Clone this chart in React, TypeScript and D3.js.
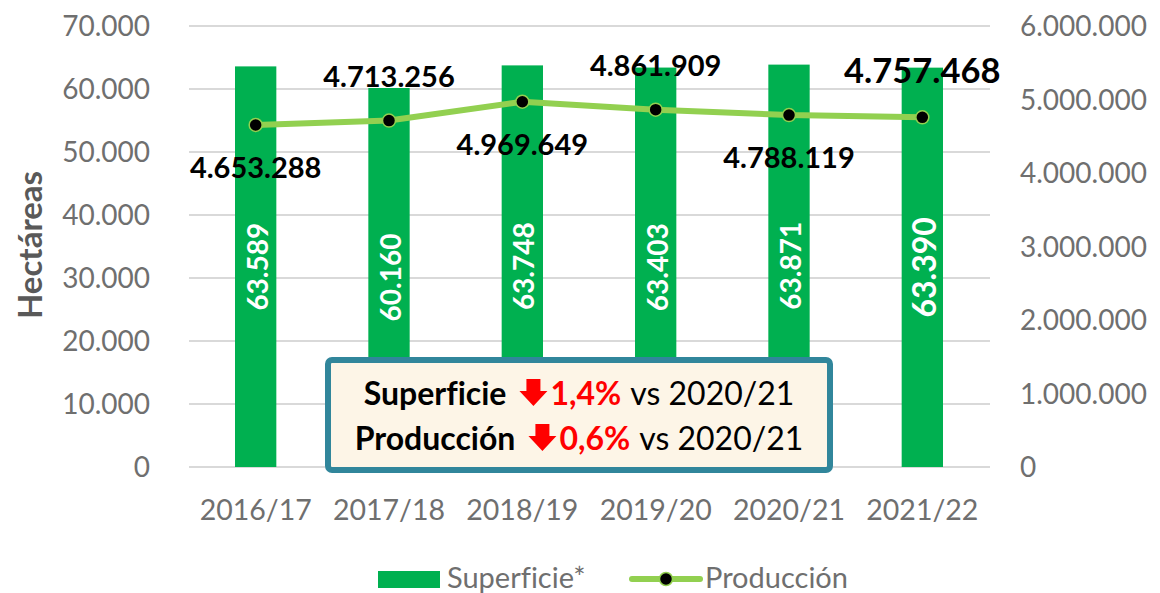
import React, { useEffect, useRef } from "react";
import * as d3 from "d3";

const categories = ["2016/17", "2017/18", "2018/19", "2019/20", "2020/21", "2021/22"];
const superficie = [63589, 60160, 63748, 63403, 63871, 63390];
const produccion = [4653288, 4713256, 4969649, 4861909, 4788119, 4757468];
const leftTicks = [0, 10000, 20000, 30000, 40000, 50000, 60000, 70000];
const rightTicks = [0, 1000000, 2000000, 3000000, 4000000, 5000000, 6000000];
const labelAbove = [false, true, false, true, false, true];
const summaryLines = [
  { label: "Superficie", change: "1,4%", ref: "vs 2020/21" },
  { label: "Producción", change: "0,6%", ref: "vs 2020/21" },
];
const legendNames = ["Superficie*", "Producción"];
const axisTitle = "Hectáreas";

const W = 1160;
const H = 593;
const FONT = "Lato, 'Open Sans', sans-serif";

export default function App() {
  const ref = useRef<SVGSVGElement | null>(null);

  useEffect(() => {
    const svg = d3.select(ref.current);
    svg.selectAll("*").remove();
    svg.style("font-variant-ligatures", "none").style("font-feature-settings", "'liga' 0");

    const loc = d3.formatLocale({ decimal: ",", thousands: ".", grouping: [3], currency: ["", ""] });
    const fmt = loc.format(",d");

    const x = d3.scaleBand<string>().domain(categories).range([189, 989]).paddingInner(0.69).paddingOuter(0.345);
    const yL = d3.scaleLinear().domain([0, 70000]).range([467, 26]);
    const yR = d3.scaleLinear().domain([0, 6000000]).range([467, 26]);
    const cx = (c: string) => (x(c) as number) + x.bandwidth() / 2;

    // gridlines
    svg.append("g").selectAll("line").data(leftTicks).join("line")
      .attr("x1", 189).attr("x2", 990)
      .attr("y1", (d) => yL(d)).attr("y2", (d) => yL(d))
      .attr("stroke", "#d9d9d9").attr("stroke-width", 2);

    // left ticks
    svg.append("g").selectAll("text").data(leftTicks).join("text")
      .attr("x", 150).attr("y", (d) => yL(d))
      .attr("dy", "0.36em")
      .attr("text-anchor", "end")
      .attr("font-family", FONT).attr("font-size", 28).attr("fill", "#6f6f6f")
      .text((d) => fmt(d));

    // right ticks
    svg.append("g").selectAll("text").data(rightTicks).join("text")
      .attr("x", 1020).attr("y", (d) => yR(d))
      .attr("dy", "0.36em")
      .attr("text-anchor", "start")
      .attr("font-family", FONT).attr("font-size", 28).attr("fill", "#6f6f6f")
      .text((d) => fmt(d));

    // x labels
    svg.append("g").selectAll("text").data(categories).join("text")
      .attr("x", (d) => cx(d)).attr("y", 520)
      .attr("text-anchor", "middle")
      .attr("font-family", FONT).attr("font-size", 28.5).attr("fill", "#6f6f6f")
      .text((d) => d);

    // axis title
    svg.append("text")
      .attr("transform", "translate(29,245) rotate(-90)")
      .attr("text-anchor", "middle").attr("dominant-baseline", "central")
      .attr("font-family", FONT).attr("font-size", 33).attr("font-weight", 700).attr("fill", "#595959")
      .text(axisTitle);

    // bars
    svg.append("g").selectAll("rect").data(superficie).join("rect")
      .attr("x", (_, i) => x(categories[i]) as number)
      .attr("width", x.bandwidth())
      .attr("y", (d) => yL(d))
      .attr("height", (d) => yL(0) - yL(d))
      .attr("fill", "#00b050");

    // bar labels
    svg.append("g").selectAll("text").data(superficie).join("text")
      .attr("transform", (d, i) => `translate(${cx(categories[i]) + 1},${(yL(d) + yL(0)) / 2}) rotate(-90)`)
      .attr("text-anchor", "middle").attr("dominant-baseline", "central")
      .attr("font-family", FONT).attr("font-weight", 700)
      .attr("font-size", (_, i) => (i === superficie.length - 1 ? 32 : 28))
      .attr("fill", "#ffffff")
      .text((d) => fmt(d));

    // line
    const line = d3.line<number>().x((_, i) => cx(categories[i])).y((d) => yR(d));
    svg.append("path").datum(produccion)
      .attr("d", line)
      .attr("fill", "none").attr("stroke", "#92d050").attr("stroke-width", 6)
      .attr("stroke-linejoin", "round").attr("stroke-linecap", "round");

    svg.append("g").selectAll("circle").data(produccion).join("circle")
      .attr("cx", (_, i) => cx(categories[i])).attr("cy", (d) => yR(d))
      .attr("r", 6.5).attr("fill", "#000").attr("stroke", "#92d050").attr("stroke-width", 1.5);

    // line labels
    svg.append("g").selectAll("text").data(produccion).join("text")
      .attr("x", (_, i) => cx(categories[i]))
      .attr("y", (d, i) => (labelAbove[i] ? yR(d) - 34 : yR(d) + 53))
      .attr("text-anchor", "middle")
      .attr("font-family", FONT).attr("font-weight", 700)
      .attr("font-size", (_, i) => (i === produccion.length - 1 ? 34.5 : 29))
      .attr("fill", "#000")
      .text((d) => fmt(d));

    // summary box
    const bx = 328, by = 360, bw = 502, bh = 110;
    svg.append("rect")
      .attr("x", bx).attr("y", by).attr("width", bw).attr("height", bh)
      .attr("rx", 4).attr("ry", 4)
      .attr("fill", "#fdf5e7").attr("stroke", "#31869b").attr("stroke-width", 6);

    const baselines = [405, 450];
    const centerX = bx + bw / 2;
    summaryLines.forEach((ln, li) => {
      const g = svg.append("g");
      const base = baselines[li];
      const t1 = g.append("text").attr("x", 0).attr("y", base)
        .attr("font-family", FONT).attr("font-weight", 700).attr("font-size", 32).attr("fill", "#000")
        .text(ln.label);
      const w1 = (t1.node() as SVGTextElement).getComputedTextLength();
      const ax = w1 + 13;
      const aw = 28, ah = 27, sw = 14, hh = 15;
      const top = base - ah + 1;
      g.append("path")
        .attr("d", `M${ax + (aw - sw) / 2},${top} h${sw} v${ah - hh} h${(aw - sw) / 2} L${ax + aw / 2},${top + ah} L${ax},${top + ah - hh} h${(aw - sw) / 2} Z`)
        .attr("fill", "#ff0000");
      const t2 = g.append("text").attr("x", ax + aw + 3).attr("y", base)
        .attr("font-family", FONT).attr("font-weight", 700).attr("font-size", 32).attr("fill", "#ff0000")
        .text(ln.change);
      const w2 = (t2.node() as SVGTextElement).getComputedTextLength();
      const x3 = ax + aw + 3 + w2 + 9;
      const t3 = g.append("text").attr("x", x3).attr("y", base)
        .attr("font-family", FONT).attr("font-weight", 400).attr("font-size", 32).attr("fill", "#000")
        .text(ln.ref);
      const w3 = (t3.node() as SVGTextElement).getComputedTextLength();
      const total = x3 + w3;
      g.attr("transform", `translate(${centerX - total / 2},0)`);
    });

    // legend
    const lg = svg.append("g");
    lg.append("rect").attr("x", 378).attr("y", 571).attr("width", 62).attr("height", 17).attr("fill", "#00b050");
    lg.append("text").attr("x", 447).attr("y", 588)
      .attr("font-family", FONT).attr("font-size", 29).attr("fill", "#6f6f6f").text(legendNames[0]);
    lg.append("line").attr("x1", 632).attr("x2", 700).attr("y1", 579).attr("y2", 579)
      .attr("stroke", "#92d050").attr("stroke-width", 6).attr("stroke-linecap", "round");
    lg.append("circle").attr("cx", 666).attr("cy", 579).attr("r", 6.5)
      .attr("fill", "#000").attr("stroke", "#92d050").attr("stroke-width", 1.5);
    lg.append("text").attr("x", 705).attr("y", 588)
      .attr("font-family", FONT).attr("font-size", 29).attr("fill", "#6f6f6f").text(legendNames[1]);
  }, []);

  return (
    <svg
      ref={ref}
      width={W}
      height={H}
      viewBox={`0 0 ${W} ${H}`}
      style={{ position: "absolute", left: 0, top: 0, background: "#fff" }}
    />
  );
}
